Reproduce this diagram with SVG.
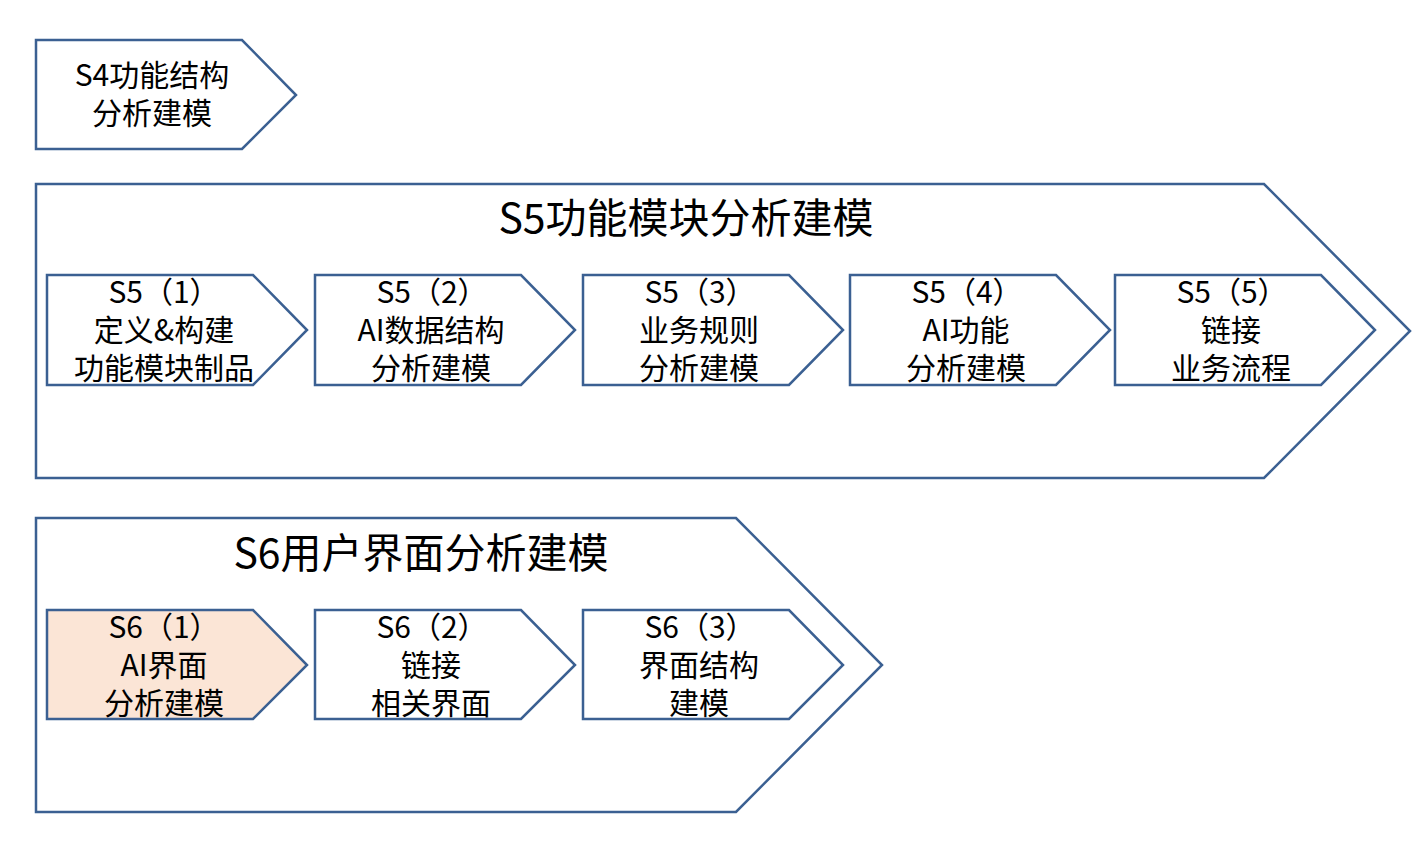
<svg xmlns="http://www.w3.org/2000/svg" width="1423" height="862" viewBox="0 0 1423 862">
<style>
.sh{fill:#FFFFFF;stroke:#3B6092;stroke-width:2.5;stroke-linejoin:miter}
.hl{fill:#FBE5D6}
text{font-family:"Noto Sans CJK SC","Noto Sans",sans-serif;fill:#000;text-anchor:middle}
.t{font-size:30px}
.h{font-size:41px}
</style>
<rect width="1423" height="862" fill="#FFFFFF"/>
<g id="s4">
<polygon class="sh" points="36,40 242,40 296,95 242,149 36,149"/>
<text class="t" y="86"><tspan x="152">S4功能结构</tspan><tspan x="152" dy="38">分析建模</tspan></text>
</g>
<g id="s5">
<polygon class="sh" points="36,184 1264,184 1410,331 1264,478 36,478"/>
<text class="h" x="686" y="233">S5功能模块分析建模</text>
</g>
<g id="s5-1">
<polygon class="sh" points="47,275 253,275 307,330 253,385 47,385"/>
<text class="t" y="303"><tspan x="164">S5（1）</tspan><tspan x="164" dy="38">定义&amp;构建</tspan><tspan x="164" dy="38">功能模块制品</tspan></text>
</g>
<g id="s5-2">
<polygon class="sh" points="315,275 521,275 575,330 521,385 315,385"/>
<text class="t" y="303"><tspan x="432">S5（2）</tspan><tspan x="431" dy="38">AI数据结构</tspan><tspan x="431" dy="38">分析建模</tspan></text>
</g>
<g id="s5-3">
<polygon class="sh" points="583,275 789,275 843,330 789,385 583,385"/>
<text class="t" y="303"><tspan x="700">S5（3）</tspan><tspan x="699" dy="38">业务规则</tspan><tspan x="699" dy="38">分析建模</tspan></text>
</g>
<g id="s5-4">
<polygon class="sh" points="850,275 1056,275 1110,330 1056,385 850,385"/>
<text class="t" y="303"><tspan x="967">S5（4）</tspan><tspan x="966" dy="38">AI功能</tspan><tspan x="966" dy="38">分析建模</tspan></text>
</g>
<g id="s5-5">
<polygon class="sh" points="1115,275 1321,275 1375,330 1321,385 1115,385"/>
<text class="t" y="303"><tspan x="1232">S5（5）</tspan><tspan x="1231" dy="38">链接</tspan><tspan x="1231" dy="38">业务流程</tspan></text>
</g>
<g id="s6">
<polygon class="sh" points="36,518 736,518 882,665 736,812 36,812"/>
<text class="h" x="421" y="568">S6用户界面分析建模</text>
</g>
<g id="s6-1">
<polygon class="sh hl" points="47,610 253,610 307,665 253,719 47,719"/>
<text class="t" y="638"><tspan x="164">S6（1）</tspan><tspan x="164" dy="38">AI界面</tspan><tspan x="164" dy="38">分析建模</tspan></text>
</g>
<g id="s6-2">
<polygon class="sh" points="315,610 521,610 575,665 521,719 315,719"/>
<text class="t" y="638"><tspan x="432">S6（2）</tspan><tspan x="431" dy="38">链接</tspan><tspan x="431" dy="38">相关界面</tspan></text>
</g>
<g id="s6-3">
<polygon class="sh" points="583,610 789,610 843,665 789,719 583,719"/>
<text class="t" y="638"><tspan x="700">S6（3）</tspan><tspan x="699" dy="38">界面结构</tspan><tspan x="699" dy="38">建模</tspan></text>
</g>
<g id="connectors"></g>
</svg>
